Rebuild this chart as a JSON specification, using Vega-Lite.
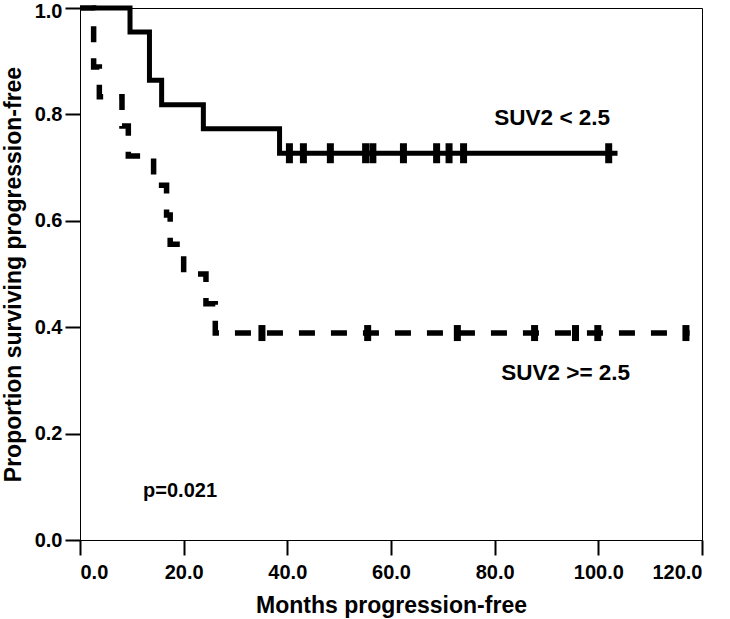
{
  "$schema": "https://vega.github.io/schema/vega-lite/v6.json",
  "width": 622,
  "height": 532,
  "autosize": {"type": "none"},
  "padding": {"left": 80, "top": 8, "right": 28, "bottom": 79},
  "background": "white",
  "config": {
    "view": {"stroke": "#000", "strokeWidth": 1},
    "font": "Liberation Sans",
    "axis": {
      "grid": false,
      "domainColor": "#000",
      "domainWidth": 1,
      "tickColor": "#000",
      "tickWidth": 2,
      "tickSize": 15,
      "labelFont": "Liberation Sans",
      "labelFontWeight": "bold",
      "labelFontSize": 20,
      "labelColor": "#000",
      "titleFont": "Liberation Sans",
      "titleFontWeight": "bold",
      "titleFontSize": 23,
      "titleColor": "#000"
    }
  },
  "datasets": {
    "curves": [
      {"group": "low", "months": 2.4, "survival": 1.0},
      {"group": "low", "months": 9.65, "survival": 0.955},
      {"group": "low", "months": 13.4, "survival": 0.864},
      {"group": "low", "months": 15.75, "survival": 0.818},
      {"group": "low", "months": 23.8, "survival": 0.773},
      {"group": "low", "months": 38.5, "survival": 0.727},
      {"group": "low", "months": 103.7, "survival": 0.727},
      {"group": "high", "months": 0, "survival": 1.0},
      {"group": "high", "months": 2.63, "survival": 0.889},
      {"group": "high", "months": 3.73, "survival": 0.833},
      {"group": "high", "months": 8.1, "survival": 0.778},
      {"group": "high", "months": 9.32, "survival": 0.722},
      {"group": "high", "months": 14.2, "survival": 0.667},
      {"group": "high", "months": 16.7, "survival": 0.611},
      {"group": "high", "months": 17.4, "survival": 0.556},
      {"group": "high", "months": 20.0, "survival": 0.5},
      {"group": "high", "months": 24.3, "survival": 0.444},
      {"group": "high", "months": 26.1, "survival": 0.389},
      {"group": "high", "months": 117.6, "survival": 0.389}
    ],
    "censors": [
      {"group": "low", "months": 40.4, "survival": 0.727},
      {"group": "low", "months": 43.1, "survival": 0.727},
      {"group": "low", "months": 48.3, "survival": 0.727},
      {"group": "low", "months": 55.1, "survival": 0.727},
      {"group": "low", "months": 56.5, "survival": 0.727},
      {"group": "low", "months": 62.4, "survival": 0.727},
      {"group": "low", "months": 68.8, "survival": 0.727},
      {"group": "low", "months": 71.2, "survival": 0.727},
      {"group": "low", "months": 74.0, "survival": 0.727},
      {"group": "low", "months": 102.0, "survival": 0.727},
      {"group": "high", "months": 35.1, "survival": 0.389},
      {"group": "high", "months": 55.5, "survival": 0.389},
      {"group": "high", "months": 72.8, "survival": 0.389},
      {"group": "high", "months": 87.7, "survival": 0.389},
      {"group": "high", "months": 95.6, "survival": 0.389},
      {"group": "high", "months": 99.9, "survival": 0.389},
      {"group": "high", "months": 116.9, "survival": 0.389}
    ],
    "labels": [
      {"kind": "group", "months": 91.1, "survival": 0.7805, "text": "SUV2 < 2.5"},
      {"kind": "group", "months": 93.7, "survival": 0.3, "text": "SUV2 >= 2.5"},
      {"kind": "p", "months": 19.3, "survival": 0.08, "text": "p=0.021"}
    ]
  },
  "encoding": {
    "x": {
      "field": "months",
      "type": "quantitative",
      "scale": {"domain": [0, 120], "nice": false, "zero": false},
      "axis": {
        "values": [0, 20, 40, 60, 80, 100, 120],
        "format": ".1f",
        "title": "Months progression-free",
        "labelPadding": 7,
        "titleBaseline": "alphabetic",
        "titleY": 72
      }
    },
    "y": {
      "field": "survival",
      "type": "quantitative",
      "scale": {"domain": [0, 1], "nice": false},
      "axis": {
        "values": [0, 0.2, 0.4, 0.6, 0.8, 1.0],
        "format": ".1f",
        "title": "Proportion surviving progression-free",
        "labelPadding": 3,
        "labelOffset": {"condition": {"test": "datum.value === 1", "value": 3}, "value": 0},
        "titleBaseline": "alphabetic",
        "titleX": -60
      }
    }
  },
  "layer": [
    {
      "data": {"name": "curves"},
      "transform": [{"filter": "datum.group === 'low'"}],
      "mark": {"type": "line", "interpolate": "step-after", "color": "#000", "strokeWidth": 5}
    },
    {
      "data": {"name": "curves"},
      "transform": [{"filter": "datum.group === 'high'"}],
      "mark": {"type": "line", "interpolate": "step-after", "color": "#000", "strokeWidth": 5.5, "strokeDash": [16, 16]}
    },
    {
      "data": {"name": "censors"},
      "transform": [{"filter": "datum.group === 'low'"}],
      "mark": {"type": "tick", "orient": "vertical", "color": "#000", "opacity": 1, "thickness": 7, "size": 20}
    },
    {
      "data": {"name": "censors"},
      "transform": [{"filter": "datum.group === 'high'"}],
      "mark": {"type": "tick", "orient": "vertical", "color": "#000", "opacity": 1, "thickness": 7, "size": 16}
    },
    {
      "data": {"name": "labels"},
      "transform": [{"filter": "datum.kind === 'group'"}],
      "mark": {"type": "text", "align": "center", "baseline": "alphabetic", "fontSize": 22.5, "fontWeight": "bold", "color": "#000"},
      "encoding": {"text": {"field": "text"}}
    },
    {
      "data": {"name": "labels"},
      "transform": [{"filter": "datum.kind === 'p'"}],
      "mark": {"type": "text", "align": "center", "baseline": "alphabetic", "fontSize": 20, "fontWeight": "bold", "color": "#000"},
      "encoding": {"text": {"field": "text"}}
    }
  ]
}
